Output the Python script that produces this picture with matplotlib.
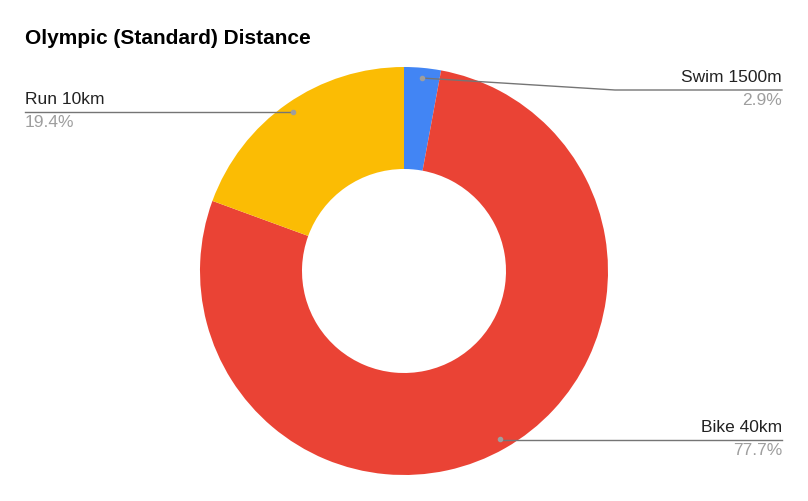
import matplotlib.pyplot as plt
import numpy as np

plt.rcParams['font.family'] = ['Liberation Sans', 'DejaVu Sans']

# dados
etapas = ['Swim 1500m', 'Bike 40km', 'Run 10km']
distancias = [1.5, 40.0, 10.0]  # km
cores = ['#4285F4', '#EA4335', '#FBBC04']

W, H = 808, 501
fig = plt.figure(figsize=(W / 100, H / 100), dpi=100)
ax = fig.add_axes([0, 0, 1, 1])

cx, cy, R = 404, H - 271, 204
wedges, _ = ax.pie(distancias, colors=cores, startangle=90, counterclock=False,
                   center=(cx, cy), radius=R, frame=True,
                   wedgeprops=dict(width=R / 2, linewidth=0))
ax.set_xlim(0, W)
ax.set_ylim(0, H)
ax.set_aspect('equal')
ax.axis('off')

pct = np.array(distancias) / sum(distancias) * 100

# posição das linhas-guia (px a partir do topo) e lado
lado = ['dir', 'dir', 'esq']
linha_y = [90, 440, 112]
cinza = '#757575'

for i, w in enumerate(wedges):
    ang = np.deg2rad((w.theta1 + w.theta2) / 2)
    px = cx + 0.95 * R * np.cos(ang)
    py = cy + 0.95 * R * np.sin(ang)
    ly = H - linha_y[i]
    ax.plot(px, py, 'o', color='#9e9e9e', ms=3, zorder=5)
    if lado[i] == 'dir':
        if abs(py - ly) > 3:
            ax.plot([px, 615, 782], [py, ly, ly], color=cinza, lw=1)
        else:
            ax.plot([px, 782], [ly, ly], color=cinza, lw=1)
        x_txt, ha = 782, 'right'
    else:
        ax.plot([25, px], [ly, ly], color=cinza, lw=1)
        x_txt, ha = 25, 'left'
    ax.text(x_txt, ly + 5, etapas[i], ha=ha, va='bottom', fontsize=12.5, color='#222222')
    ax.text(x_txt, ly - 3, f'{pct[i]:.1f}%', ha=ha, va='top', fontsize=12.5, color='#9e9e9e')

fig.text(25 / W, 1 - 38 / H, 'Olympic (Standard) Distance', fontsize=15,
         fontweight='bold', va='center', ha='left')

fig.savefig('out.png', dpi=100)
